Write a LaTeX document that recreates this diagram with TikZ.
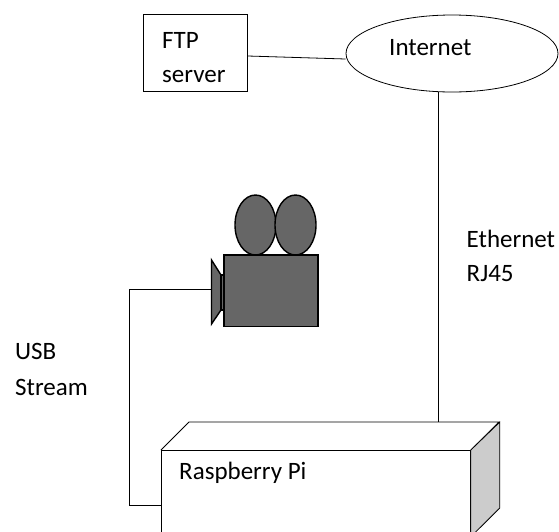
\documentclass[tikz,border=0pt]{standalone}
\usepackage{fontspec}
\setmainfont{Carlito}
\usetikzlibrary{shapes.geometric}

\tikzset{
  box/.style={draw, thick, inner sep=0pt},
  txt/.style={anchor=base west, inner sep=0pt, font=\fontsize{25}{30}\selectfont},
  cam/.style={draw=black, fill=black!60, line width=1.4pt},
}

\begin{document}
\begin{tikzpicture}[x=1pt,y=-1pt]
\useasboundingbox (0,0) rectangle (559,531);

\node[box, minimum width=104pt, minimum height=77pt] (ftp) at (195.5,52.5) {}; % FTP box
\node[txt] (ftptop) at (162,48) {FTP};
\node[txt] (ftpbot) at (162,82) {server};

\node[box, ellipse, minimum width=212pt, minimum height=77pt] (inet) at (452,53.5) {}; % cloud
\node[txt] (inettxt) at (389,55) {Internet};

\draw[thick] ([yshift=-3.5pt]ftp.east) -- ([yshift=-5.5pt]inet.west);

% Raspberry Pi box
\node[box, minimum width=309pt, minimum height=86pt, anchor=north west] (rpi) at (161,450) {};
\draw[thick] (rpi.north west) -- ++(28,-28) -- ++(310,0) -- (rpi.north east); % top face
\draw[thick, fill=black!20] (rpi.north east) -- ++(29,-28) -- ++(0,86) -- (rpi.south east) -- cycle; % side face
\node[txt] (rpitxt) at (179,479) {Raspberry Pi};

% ethernet line
\coordinate (ethtop) at ([xshift=-14pt,yshift=0.3pt]inet.south);
\coordinate (ethbot) at (ethtop |- 0,422);
\draw[thick] (ethtop) -- (ethbot);
\node[txt] (eth1) at (466.5,247) {Ethernet};
\node[txt] (eth2) at (466.5,281.5) {RJ45};

% camera
\draw[cam] (255.5,225) ellipse (20.5 and 30);
\draw[cam] (295.5,225) ellipse (20.5 and 30);
\draw[cam] (224,255) rectangle (318,326.5);
\draw[cam] (211.5,260) -- (221,275) -- (221,310) -- (211.5,324) -- cycle; % lens
\draw[cam] (221,275) rectangle (224,310);
\coordinate (lens) at (211,289);

% usb line
\coordinate (usbc) at (129,289);
\draw[thick] (lens) -- (usbc) -- (usbc |- 0,505) -- (rpi.west |- 0,505);
\node[txt] (usb1) at (15,359) {USB};
\node[txt] (usb2) at (15,395.5) {Stream};
\end{tikzpicture}
\end{document}
